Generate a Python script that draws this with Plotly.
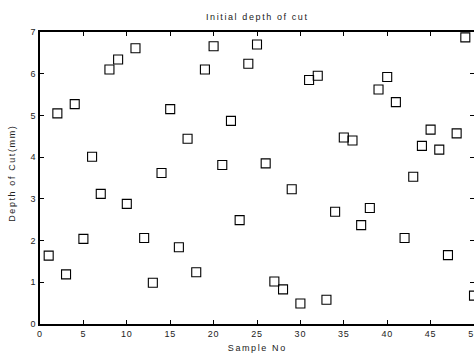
import plotly.graph_objects as go

samples = list(range(1, 51))
depth = [1.64, 5.05, 1.19, 5.27, 2.04, 4.01, 3.12, 6.10, 6.34, 2.88,
         6.61, 2.06, 0.99, 3.62, 5.15, 1.84, 4.44, 1.24, 6.10, 6.66,
         3.81, 4.87, 2.49, 6.24, 6.70, 3.85, 1.02, 0.83, 3.23, 0.49,
         5.85, 5.95, 0.58, 2.69, 4.47, 4.40, 2.37, 2.78, 5.62, 5.92,
         5.32, 2.06, 3.53, 4.27, 4.66, 4.18, 1.65, 4.57, 6.87, 0.68]

title_text = "Initial depth of cut"
x_title = "Sample No"
y_title = "Depth of Cut(mm)"

font_fam = "Liberation Sans, Arial, sans-serif"

fig = go.Figure()
fig.add_trace(go.Scatter(
    x=samples, y=depth, mode="markers",
    marker=dict(symbol="square-open", size=9, color="black", line=dict(width=1.1, color="black")),
    showlegend=False,
))

axis_common = dict(
    showline=True, linecolor="black", linewidth=1.6, mirror="ticks",
    ticks="inside", ticklen=4, tickcolor="black", tickwidth=1,
    showgrid=False, zeroline=False, ticklabeloverflow="allow", automargin=False,
    tickfont=dict(family=font_fam, size=9, color="#222"),
)

fig.update_layout(
    width=474, height=353,
    margin=dict(l=40, r=0, t=32, b=29, autoexpand=False),
    paper_bgcolor="white", plot_bgcolor="white",
    xaxis=dict(range=[0, 50], dtick=5, tick0=0, **axis_common),
    yaxis=dict(range=[0, 7], dtick=1, tick0=0, **axis_common),
    annotations=[
        dict(text=title_text, xref="paper", yref="paper", x=0.5, y=1 + 15/292,
             yanchor="middle", showarrow=False,
             font=dict(family=font_fam, size=9, color="#222")),
        dict(text=x_title, xref="paper", yref="paper", x=0.5, y=-24/292,
             yanchor="middle", showarrow=False,
             font=dict(family=font_fam, size=9, color="#222")),
        dict(text=y_title, xref="paper", yref="paper", x=-28/434, y=0.5 + 5/292,
             xanchor="center", yanchor="middle", textangle=-90, showarrow=False,
             font=dict(family=font_fam, size=9, color="#222")),
    ],
)

post = """
var s=document.createElement('style');
s.textContent='.annotation-text{letter-spacing:1.6px} .xtick text,.ytick text{letter-spacing:0.8px}';
document.head.appendChild(s);
"""

fig.write_html("out.html", post_script=post)
